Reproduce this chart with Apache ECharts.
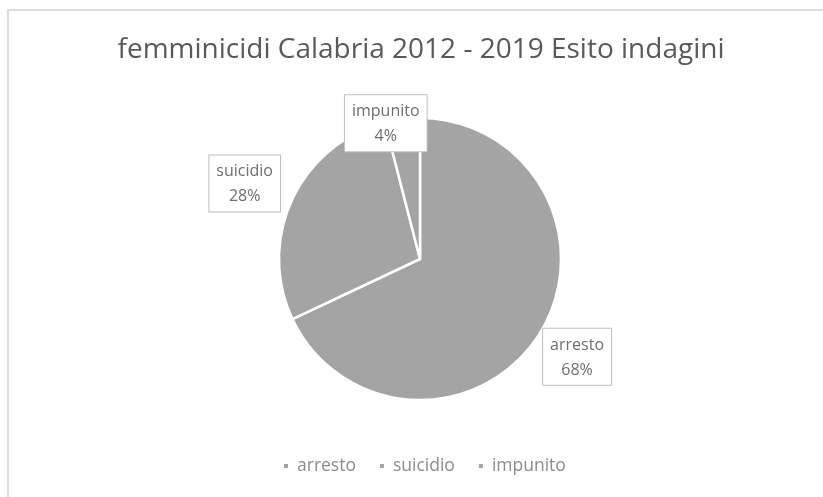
<!DOCTYPE html>
<html>
<head>
<meta charset="utf-8">
<script src="https://cdn.jsdelivr.net/npm/echarts@6/dist/echarts.min.js"></script>
<style>
  html, body { margin: 0; padding: 0; background: #ffffff; }
  #chart { width: 823px; height: 497px; }
</style>
</head>
<body>
<div id="chart"></div>
<script>
// Esito delle indagini sui femminicidi in Calabria, 2012-2019
const categories = ['arresto', 'suicidio', 'impunito'];
const counts = [17, 7, 1];

const sliceColor = '#a4a4a4';
const labelOffsets = [[-6, 19], [-2, -13], [30, 10]];

const chart = echarts.init(document.getElementById('chart'));
chart.setOption({
  backgroundColor: '#ffffff',
  animation: false,
  title: {
    text: 'femminicidi Calabria 2012 - 2019 Esito indagini',
    left: 416,
    textAlign: 'center',
    top: 31,
    textStyle: { fontFamily: 'Open Sans', fontWeight: 'normal', fontSize: 28, color: '#595959' }
  },
  legend: {
    bottom: 17,
    left: 277,
    icon: 'rect',
    itemWidth: 6,
    itemHeight: 6,
    itemGap: 22,
    textStyle: { fontFamily: 'Open Sans', fontSize: 17.5, color: '#8c8c8c', padding: [0, 0, 0, 3] },
    data: categories
  },
  graphic: [{
    type: 'rect',
    shape: { x: 8, y: 10, width: 830, height: 500 },
    style: { fill: 'none', stroke: '#dcdcdc', lineWidth: 2 },
    silent: true,
    z: -1
  }],
  series: [{
    type: 'pie',
    center: [420, 259],
    radius: [0, 141],
    startAngle: 90,
    clockwise: true,
    color: [sliceColor, sliceColor, sliceColor],
    itemStyle: { borderColor: '#ffffff', borderWidth: 2.5 },
    label: {
      show: true,
      position: 'outside',
      formatter: '{n|{b}}\n{p|{d}%}',
      fontFamily: 'Open Sans',
      fontSize: 16,
      color: '#6e6e6e',
      backgroundColor: '#ffffff',
      borderColor: '#bfbfbf',
      borderWidth: 1,
      padding: [4, 7, 2, 7],
      rich: {
        n: { align: 'center', fontFamily: 'Open Sans', fontSize: 16, lineHeight: 25, color: '#6e6e6e' },
        p: { align: 'center', fontFamily: 'Open Sans', fontSize: 16, lineHeight: 25, color: '#6e6e6e' }
      }
    },
    labelLine: { show: false, length: 6, length2: 0 },
    labelLayout: function (params) {
      const o = labelOffsets[params.dataIndex];
      return { dx: o[0], dy: o[1] };
    },
    emphasis: { disabled: true },
    data: categories.map((c, i) => ({ name: c, value: counts[i] }))
  }]
});
</script>
</body>
</html>
